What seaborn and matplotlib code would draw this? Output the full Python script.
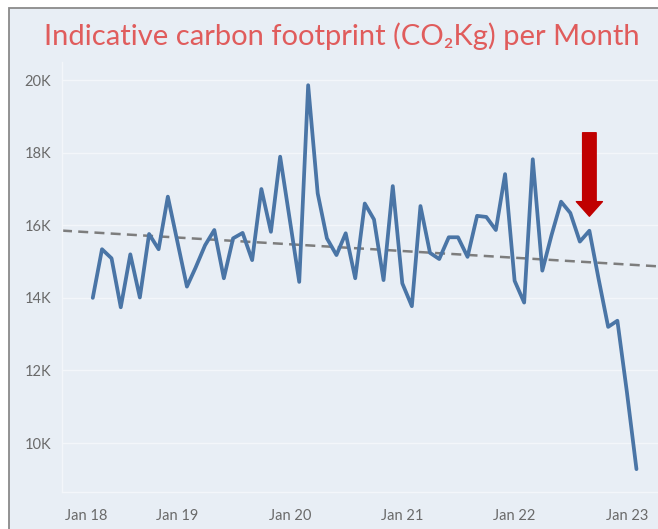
import numpy as np
import pandas as pd
import matplotlib
matplotlib.use("Agg")
import matplotlib.pyplot as plt
import matplotlib.dates as mdates
from matplotlib.ticker import FuncFormatter
from matplotlib.patches import Rectangle
import seaborn as sns

# ---- data ----
start_month = "2018-04-01"
co2_kg = [14000, 15340, 15090, 13740, 15200, 14010, 15760, 15340, 16790, 15550,
          14310, 14830, 15450, 15870, 14540, 15640, 15790, 15040, 17000, 15820,
          17890, 16170, 14440, 19860, 16880, 15640, 15180, 15780, 14540, 16600,
          16160, 14490, 17080, 14400, 13770, 16530, 15240, 15070, 15670, 15670,
          15130, 16260, 16230, 15870, 17410, 14470, 13870, 17820, 14750, 15730,
          16650, 16340, 15550, 15850, 14520, 13200, 13370, 11400, 9280]
months = pd.date_range(start_month, periods=len(co2_kg), freq="MS")
df = pd.DataFrame({"month": months, "co2": co2_kg})

arrow_month = "2022-09-01"
arrow_tip_value = 16250
arrow_tail_value = 18550

title_text = "Indicative carbon footprint (CO\u2082Kg) per Month"
y_ticks = [10000, 12000, 14000, 16000, 18000, 20000]
x_tick_years = ["2018-01-01", "2019-01-01", "2020-01-01", "2021-01-01",
                "2022-01-01", "2023-01-01"]

# ---- style ----
bg = "#E8EEF5"
line_col = "#4A75A6"
sns.set_theme(style="white")
plt.rcParams["font.family"] = ["Lato", "DejaVu Sans"]

fig = plt.figure(figsize=(6.58, 5.29), dpi=100, facecolor="white")
frame = Rectangle((9 / 658, -0.1), 1.2, 1 - 8 / 529 + 0.1, transform=fig.transFigure,
                  facecolor=bg, edgecolor="#8a8a8a", linewidth=1.3, zorder=-10)
fig.patches.append(frame)

ax = fig.add_axes([62 / 658, 1 - 492 / 529, 1 - 62 / 658, (492 - 62) / 529])
ax.set_facecolor(bg)

xlim = (mdates.date2num(pd.Timestamp("2017-12-22")),
        mdates.date2num(pd.Timestamp("2023-04-12")))
ax.set_xlim(*xlim)
ax.set_ylim(8650, 20500)

xnum = mdates.date2num(df["month"])
sns.regplot(x=xnum, y=df["co2"].to_numpy(), ax=ax, scatter=False, ci=None,
            truncate=False,
            line_kws=dict(color="#7d7d7d", lw=1.8, ls=(0, (4, 2.5)), zorder=2))
sns.lineplot(x=xnum, y=df["co2"].to_numpy(), ax=ax, color=line_col, lw=2.7, zorder=3)

ax.set_xlim(*xlim)
ax.set_ylim(8650, 20500)

ax.set_yticks(y_ticks)
ax.yaxis.set_major_formatter(FuncFormatter(lambda v, p: f"{int(round(v / 1000))}K"))
xt = [mdates.date2num(pd.Timestamp(d)) for d in x_tick_years]
ax.set_xticks(xt)
ax.set_xticklabels([pd.Timestamp(d).strftime("Jan %y") for d in x_tick_years])
ax.tick_params(axis="both", length=0, colors="#6a6a6a", labelsize=10.5)
ax.tick_params(axis="y", pad=8)
ax.tick_params(axis="x", pad=12)
ax.get_xticklabels()[0].set_ha("left")

ax.grid(axis="y", color="#F3F6FA", lw=1)
ax.set_axisbelow(True)
for s in ["top", "right"]:
    ax.spines[s].set_visible(False)
for s in ["left", "bottom"]:
    ax.spines[s].set_color("#F3F6FA")
    ax.spines[s].set_linewidth(1)
ax.set_xlabel("")
ax.set_ylabel("")

ax.annotate("", xy=(mdates.date2num(pd.Timestamp(arrow_month)), arrow_tip_value),
            xytext=(mdates.date2num(pd.Timestamp(arrow_month)), arrow_tail_value),
            arrowprops=dict(arrowstyle="simple,head_length=0.7,head_width=1.25,tail_width=0.65",
                            color="#C00000", shrinkA=0, shrinkB=0, mutation_scale=15),
            zorder=5)

fig.text(342 / 658, 1 - 36 / 529, title_text, ha="center", va="center",
         fontsize=21, color="#E05C5C", family=["Lato", "DejaVu Sans"])

fig.savefig("out.png", dpi=100, facecolor="white")
